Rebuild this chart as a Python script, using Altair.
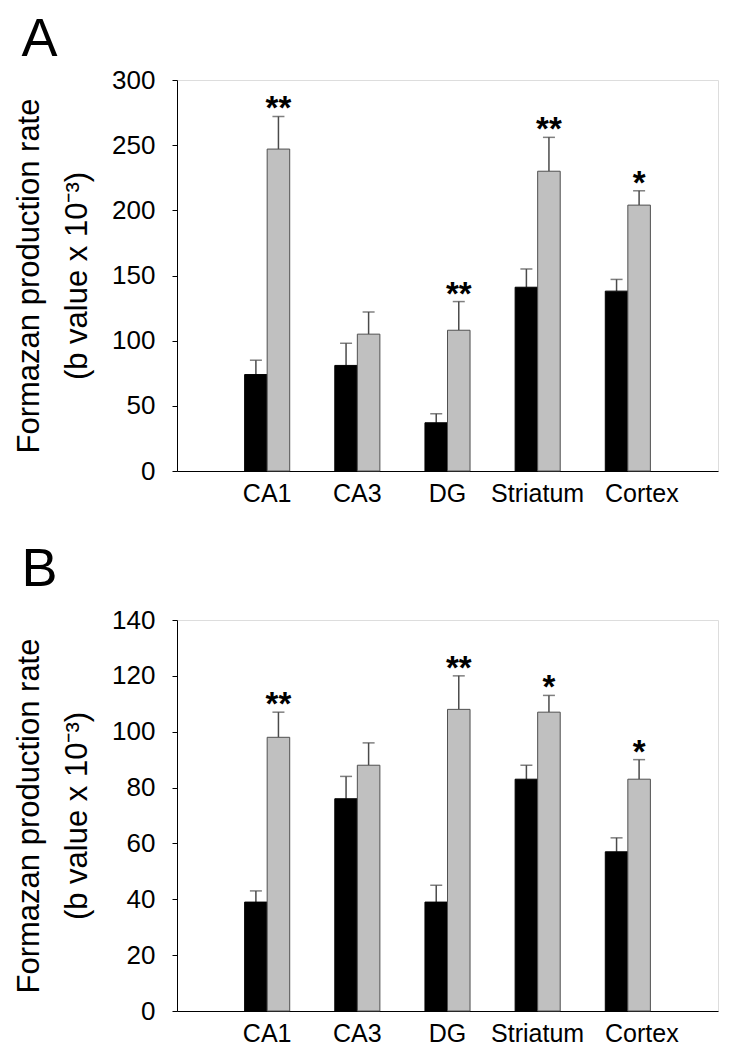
import altair as alt
import pandas as pd

regions = ["CA1", "CA3", "DG", "Striatum", "Cortex"]
groups = ["control", "treated"]

# Panel A
a_control = [74, 81, 37, 141, 138]
a_control_err = [85, 98, 44, 155, 147]
a_treated = [247, 105, 108, 230, 204]
a_treated_err = [272, 122, 130, 256, 215]
a_stars = ["**", "", "**", "**", "*"]

# Panel B
b_control = [39, 76, 39, 83, 57]
b_control_err = [43, 84, 45, 88, 62]
b_treated = [98, 88, 108, 107, 83]
b_treated_err = [107, 96, 120, 113, 90]
b_stars = ["**", "", "**", "*", "*"]

y_title = ["Formazan production rate", "(b value x 10\u207b\u00b3)"]
FONT = "Liberation Sans"


def make_df(ctrl, ctrl_err, trt, trt_err, stars):
    rows = []
    for i, r in enumerate(regions):
        rows.append({"region": r, "group": "control", "value": ctrl[i], "err": ctrl_err[i], "star": ""})
        rows.append({"region": r, "group": "treated", "value": trt[i], "err": trt_err[i], "star": stars[i]})
    return pd.DataFrame(rows)


def panel(df, ymax, step, letter, title_offset):
    yscale = alt.Scale(domain=[0, ymax], nice=False, zero=True)
    yaxis = alt.Axis(
        values=list(range(0, ymax + 1, step)),
        title=y_title,
        titleFontSize=31,
        titleFontWeight="normal",
        titleFont=FONT,
        titleColor="black",
        titlePadding=18,
        titleLineHeight=48,
        labelFontSize=26,
        labelFont=FONT,
        labelColor="black",
        labelPadding=17,
        tickSize=5,
        tickColor="black",
        domainColor="black",
        grid=False,
    )
    x = alt.X(
        "region:N",
        sort=regions,
        scale=alt.Scale(paddingInner=0.5, paddingOuter=0.75),
        axis=alt.Axis(
            title=None,
            labelAngle=0,
            ticks=False,
            labelFontSize=25,
            labelFont=FONT,
            labelColor="black",
            labelPadding=10,
            labelOffset={"condition": {"test": "datum.value == 'Cortex'", "value": 14}, "value": 0},
            domainColor="black",
        ),
    )
    xo = alt.XOffset("group:N", sort=groups, scale=alt.Scale(paddingInner=0, paddingOuter=0))
    base = alt.Chart(df)
    bars = base.mark_bar(strokeWidth=1).encode(
        x=x,
        xOffset=xo,
        y=alt.Y("value:Q", scale=yscale, axis=yaxis),
        color=alt.Color("group:N", scale=alt.Scale(domain=groups, range=["#000000", "#c0c0c0"]), legend=None),
        stroke=alt.Stroke("group:N", scale=alt.Scale(domain=groups, range=["#000000", "#505050"]), legend=None),
    )
    rules = base.mark_rule(color="#4a4a4a", strokeWidth=1.5).encode(
        x=x,
        xOffset=xo,
        y=alt.Y("value:Q", scale=yscale, axis=yaxis),
        y2="err:Q",
    )
    caps = base.mark_tick(color="#4a4a4a", thickness=1.5, size=12).encode(
        x=x,
        xOffset=xo,
        y=alt.Y("err:Q", scale=yscale, axis=yaxis),
    )
    stars = base.transform_filter("datum.star != ''").mark_text(
        fontSize=33, fontWeight="bold", font=FONT, baseline="alphabetic", dy=3, color="black"
    ).encode(
        x=x,
        xOffset=xo,
        y=alt.Y("err:Q", scale=yscale, axis=yaxis),
        text="star:N",
    )
    return alt.layer(rules, caps, bars, stars).properties(
        width=541,
        height=391,
        title=alt.TitleParams(
            letter, anchor="start", fontSize=54, fontWeight="normal", font=FONT,
            color="black", offset=title_offset, frame="bounds", dx=8,
        ),
    )


chart_a = panel(make_df(a_control, a_control_err, a_treated, a_treated_err, a_stars), 300, 50, "A", 0)
chart_b = panel(make_df(b_control, b_control_err, b_treated, b_treated_err, b_stars), 140, 20, "B", 10)

chart = alt.vconcat(chart_a, chart_b, spacing=35).properties(
    padding={"left": 5, "top": 4, "right": 2, "bottom": 0}
).configure_view(stroke="#808080", strokeWidth=1).configure(font=FONT)

chart.save("out.html", embed_options={"renderer": "svg", "actions": False})
